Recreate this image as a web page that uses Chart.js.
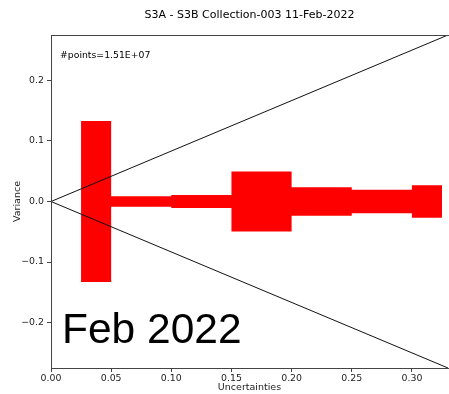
<!DOCTYPE html>
<html>
<head>
<meta charset="utf-8">
<script src="https://cdn.jsdelivr.net/npm/chart.js@4/dist/chart.umd.min.js"></script>
<style>
  html, body { margin: 0; padding: 0; background: #fff; }
  #wrap { width: 449px; height: 394px; position: relative; }
</style>
</head>
<body>
<div id="wrap"><canvas id="varChart"></canvas></div>
<script>
// bin edges along the uncertainty axis and the half-height of each red block
const binEdges = [0.025, 0.05, 0.10, 0.15, 0.20, 0.25, 0.30, 0.325];
const varUpper = [0.133, 0.0088, 0.0107, 0.0496, 0.0235, 0.0193, 0.027, 0.027];
const varLower = [-0.133, -0.0088, -0.0107, -0.0496, -0.0235, -0.0193, -0.027, -0.027];

// the two diagonal guide lines from the origin
const diagX = [0, 0.33];
const diagUp = [0, 0.275];
const diagDown = [0, -0.275];

const xTicks = [0, 0.05, 0.10, 0.15, 0.20, 0.25, 0.30];
const yTicks = [-0.2, -0.1, 0, 0.1, 0.2];

const titleText = "S3A - S3B Collection-003 11-Feb-2022";
const pointsText = "#points=1.51E+07";
const stampText = "Feb 2022";

const FONT = "'DejaVu Sans', sans-serif";

const toXY = (xs, ys) => xs.map((x, i) => ({ x: x, y: ys[i] }));

const fmtMinus = s => s.replace('-', '\u2212');

// frame, title and the text annotations
const extrasPlugin = {
    id: 'extras',
    afterDraw(chart) {
        const { ctx, chartArea: a } = chart;
        ctx.save();
        ctx.strokeStyle = '#444';
        ctx.lineWidth = 1;
        ctx.strokeRect(a.left + 0.5, a.top + 0.5, a.right - a.left + 1, a.bottom - a.top);

        ctx.fillStyle = '#000';
        ctx.textAlign = 'center';
        ctx.textBaseline = 'middle';
        ctx.font = "11px " + FONT;
        ctx.fillText(titleText, (a.left + a.right) / 2, 15);

        ctx.textAlign = 'left';
        ctx.font = "9.3px " + FONT;
        ctx.fillText(pointsText, a.left + 9, a.top + 21);

        ctx.textBaseline = 'alphabetic';
        ctx.font = "42.5px 'Liberation Sans', Arial, sans-serif";
        ctx.fillText(stampText, a.left + 11, a.bottom - 25);
        ctx.restore();
    }
};

new Chart(document.getElementById("varChart"), {
    type: 'scatter',
    data: {
        datasets: [
            {
                data: toXY(diagX, diagUp),
                showLine: true,
                borderColor: '#111',
                borderWidth: 1,
                pointRadius: 0,
                order: 0
            },
            {
                data: toXY(diagX, diagDown),
                showLine: true,
                borderColor: '#111',
                borderWidth: 1,
                pointRadius: 0,
                order: 0
            },
            {
                data: toXY(binEdges, varUpper),
                showLine: true,
                stepped: 'before',
                borderWidth: 0,
                borderColor: 'rgba(0,0,0,0)',
                pointRadius: 0,
                order: 2
            },
            {
                data: toXY(binEdges, varLower),
                showLine: true,
                stepped: 'before',
                borderWidth: 0,
                borderColor: 'rgba(0,0,0,0)',
                backgroundColor: '#ff0000',
                fill: '-1',
                pointRadius: 0,
                order: 1
            }
        ]
    },
    options: {
        responsive: true,
        maintainAspectRatio: false,
        animation: false,
        layout: { padding: { top: 35, right: 1, left: 0, bottom: 0 } },
        plugins: {
            legend: { display: false },
            tooltip: { enabled: false }
        },
        scales: {
            x: {
                type: 'linear',
                min: 0,
                max: 0.33,
                afterBuildTicks: scale => { scale.ticks = xTicks.map(v => ({ value: v })); },
                afterFit: scale => { scale.height = 26; },
                grid: { drawOnChartArea: false, tickLength: 4, color: '#444' },
                border: { color: '#444' },
                ticks: {
                    color: '#222',
                    padding: 1,
                    maxRotation: 0,
                    font: { family: FONT, size: 9.4 },
                    callback: v => fmtMinus(v.toFixed(2))
                },
                title: {
                    display: true,
                    text: 'Uncertainties',
                    color: '#222',
                    font: { family: FONT, size: 9.5 },
                    padding: { top: 0, bottom: 1 }
                }
            },
            y: {
                type: 'linear',
                min: -0.275,
                max: 0.275,
                afterBuildTicks: scale => { scale.ticks = yTicks.map(v => ({ value: v })); },
                afterFit: scale => { scale.width = 51; },
                grid: { drawOnChartArea: false, tickLength: 4, color: '#444' },
                border: { color: '#444' },
                ticks: {
                    color: '#222',
                    padding: 3,
                    font: { family: FONT, size: 9.4 },
                    callback: v => fmtMinus(v.toFixed(1))
                },
                title: {
                    display: true,
                    text: 'Variance',
                    color: '#222',
                    font: { family: FONT, size: 9.5 },
                    padding: { top: 12, bottom: 0 }
                }
            }
        }
    },
    plugins: [extrasPlugin]
});
</script>
</body>
</html>
